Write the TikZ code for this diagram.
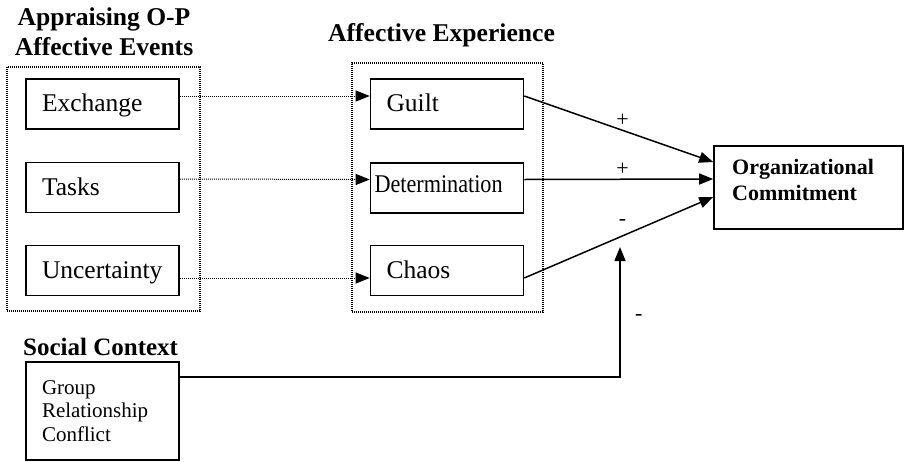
\documentclass[tikz,border=0pt]{standalone}
\usepackage{fontspec}
\setmainfont{Liberation Serif}
\usetikzlibrary{arrows.meta}

\begin{document}
\begin{tikzpicture}[
		x=1pt, y=-1pt,
		box/.style={draw, line width=1.6pt, minimum width=153pt, minimum height=50pt,
				align=left, text width=121pt, inner xsep=16pt, font=\fontsize{25.5}{28}\selectfont},
		onebox/.style={box, text height=17pt, text depth=2pt},
		frame/.style={draw, line width=1.1pt, dash pattern=on 1pt off 1pt},
		title/.style={font=\fontsize{25.6}{30}\selectfont\bfseries, align=center},
		arrow/.style={line width=1.5pt, -{Triangle[length=14pt,width=11pt]}},
		dotarrow/.style={line width=1pt, dash pattern=on 1pt off 1pt, -{Triangle[length=14pt,width=11pt]}},
		sign/.style={font=\fontsize{22}{24}\selectfont}
	]
	\useasboundingbox (0,0) rectangle (905,461);

	\node[frame, minimum width=193pt, minimum height=244pt] (events) at (103.5,189) {};
	\node[frame, minimum width=191pt, minimum height=249pt] (experience) at (447.5,187.5) {};

	\node[title] (eventsTitle) at (104,31.5) {Appraising O-P\\Affective Events};
	\node[title, anchor=base] (experienceTitle) at (441.5,41) {Affective Experience};
	\node[title, anchor=base west, inner xsep=0pt, font=\fontsize{25}{30}\selectfont\bfseries] (socialTitle) at (23,355) {Social Context};

	\node[onebox] (Exchange) at (102.5,104) {Exchange};
	\node[onebox] (Tasks) at (102.5,187.5) {Tasks};
	\node[onebox] (Uncertainty) at (102.5,270.5) {Uncertainty};

	\node[onebox] (Guilt) at (447,104) {Guilt};
	\node[onebox, text depth=8pt, text width=145pt, inner xsep=4pt] (Determination) at (447,188) {\scalebox{0.87}[1]{Determination}};
	\node[onebox] (Chaos) at (447,270.5) {Chaos};

	\node[draw, line width=1.6pt, minimum width=189pt, minimum height=83pt] (OC) at (808.5,187.5) {};
	\node[anchor=north west, align=left, inner sep=0pt, font=\fontsize{22}{26}\selectfont\bfseries] (OCtext) at (732,159) {Organizational\\Commitment};

	\node[box, minimum height=98pt, font=\fontsize{21}{23.5}\selectfont] (Social) at (102.5,411) {Group\\Relationship\\Conflict};

	\draw[dotarrow] ([yshift=8pt]Exchange.east) -- ([yshift=8pt]Guilt.west);
	\draw[dotarrow] ([yshift=8.5pt]Tasks.east) -- ([yshift=8.5pt]Determination.west);
	\draw[dotarrow] ([yshift=-7.5pt]Uncertainty.east) -- ([yshift=-7.5pt]Chaos.west);

	\draw[arrow] ([yshift=8pt]Guilt.east) -- node[sign, pos=.52, above] {+} ([yshift=25.5pt]OC.west);
	\draw[arrow] ([yshift=8.5pt]Determination.east) -- node[sign, pos=.52, above] {+} ([yshift=8.5pt]OC.west);
	\draw[arrow] ([yshift=-7.5pt]Chaos.east) -- node[sign, pos=.52, above=6pt] {-} ([yshift=-9.5pt]OC.west);

	\coordinate (moderator) at (620,247);
	\draw[arrow] ([yshift=-16pt]Social.north east) -| node[sign, pos=.74, right=11pt, yshift=-3pt] {-} (moderator);
\end{tikzpicture}
\end{document}
